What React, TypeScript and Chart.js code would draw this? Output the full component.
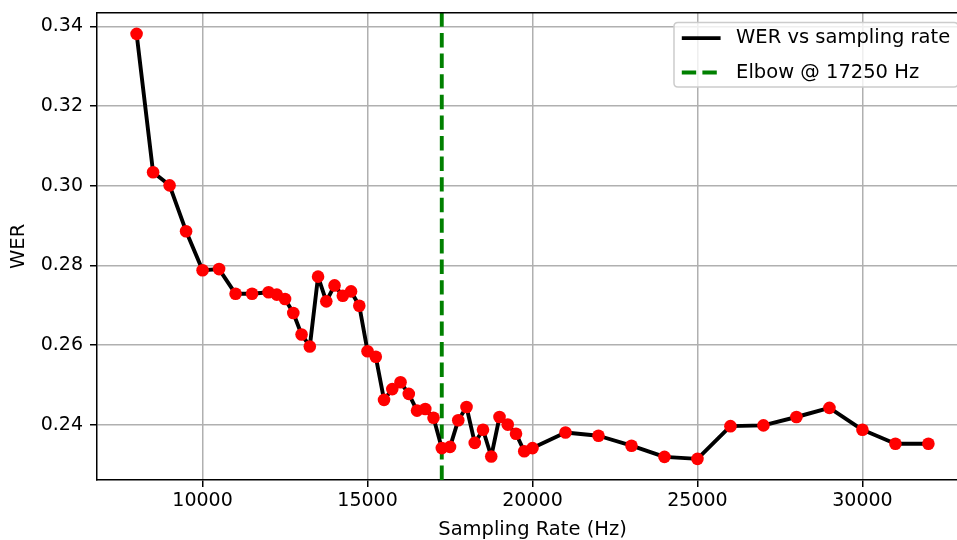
import React, { useEffect, useRef } from "react";
import { Chart, registerables } from "chart.js";

Chart.register(...registerables);

const samplingRates = [
  8000, 8500, 9000, 9500, 10000, 10500, 11000, 11500, 12000, 12250, 12500, 12750,
  13000, 13250, 13500, 13750, 14000, 14250, 14500, 14750, 15000, 15250, 15500, 15750,
  16000, 16250, 16500, 16750, 17000, 17250, 17500, 17750, 18000, 18250, 18500, 18750,
  19000, 19250, 19500, 19750, 20000, 21000, 22000, 23000, 24000, 25000, 26000, 27000,
  28000, 29000, 30000, 31000, 32000,
];
const werValues = [
  0.3381, 0.3034, 0.3001, 0.2886, 0.2788, 0.2791, 0.2729, 0.2729, 0.2733, 0.2727, 0.2716, 0.2681,
  0.2627, 0.2597, 0.2772, 0.271, 0.275, 0.2724, 0.2735, 0.2699, 0.2585, 0.2571, 0.2463, 0.249,
  0.2507, 0.2478, 0.2436, 0.244, 0.2418, 0.2342, 0.2345, 0.2412, 0.2445, 0.2355, 0.2388, 0.2321,
  0.242, 0.2401, 0.2378, 0.2334, 0.2342, 0.2381, 0.2373, 0.2348, 0.232, 0.2315, 0.2397, 0.2399,
  0.242, 0.2443, 0.2388, 0.2353, 0.2353,
];
const elbowRate = 17250;
const xTicks = [10000, 15000, 20000, 25000, 30000];
const yTicks = [0.24, 0.26, 0.28, 0.3, 0.32, 0.34];
const xRange = [6800, 33200];
const yRange = [0.2262, 0.3434];

const FONT = "'DejaVu Sans', 'Liberation Sans', sans-serif";
const FS = 19;
const FS_LEGEND = 19.5;

const framePlugin = {
  id: "frame",
  afterDatasetsDraw(chart: any) {
    const { ctx, chartArea } = chart;
    ctx.save();
    ctx.strokeStyle = "#000";
    ctx.lineWidth = 1.5;
    ctx.beginPath();
    ctx.moveTo(chartArea.left, chartArea.top);
    ctx.lineTo(chartArea.right, chartArea.top);
    ctx.lineTo(chartArea.right, chartArea.bottom);
    ctx.stroke();
    ctx.restore();
  },
  afterDraw(chart: any) {
    // matplotlib-like legend in the upper right corner
    const { ctx, chartArea } = chart;
    const items = chart.data.datasets
      .filter((d: any) => d.label)
      .map((d: any) => ({ label: d.label, color: d.borderColor, dash: d.borderDash || [], width: d.borderWidth }));
    ctx.save();
    ctx.font = `${FS_LEGEND}px ${FONT}`;
    const maxW = Math.max(...items.map((it: any) => ctx.measureText(it.label).width));
    const pad = 7.8;
    const handleLen = 38.8;
    const handleGap = 15.5;
    const right = chartArea.right - 10;
    const top = chartArea.top + 9.9;
    const boxW = pad + handleLen + handleGap + maxW + pad;
    const left = right - boxW;
    const rowGap = 34.4;
    const boxH = 64.3;
    const r = 4;
    ctx.beginPath();
    ctx.moveTo(left + r, top);
    ctx.lineTo(right - r, top);
    ctx.quadraticCurveTo(right, top, right, top + r);
    ctx.lineTo(right, top + boxH - r);
    ctx.quadraticCurveTo(right, top + boxH, right - r, top + boxH);
    ctx.lineTo(left + r, top + boxH);
    ctx.quadraticCurveTo(left, top + boxH, left, top + boxH - r);
    ctx.lineTo(left, top + r);
    ctx.quadraticCurveTo(left, top, left + r, top);
    ctx.closePath();
    ctx.fillStyle = "rgba(255,255,255,0.8)";
    ctx.fill();
    ctx.strokeStyle = "#cccccc";
    ctx.lineWidth = 1.5;
    ctx.stroke();
    items.forEach((it: any, i: number) => {
      const cy = top + 15.5 + i * rowGap;
      const hx = left + pad;
      ctx.beginPath();
      ctx.setLineDash(it.dash);
      ctx.strokeStyle = it.color;
      ctx.lineWidth = it.width;
      ctx.lineCap = "butt";
      ctx.moveTo(hx, cy);
      ctx.lineTo(hx + handleLen, cy);
      ctx.stroke();
      ctx.setLineDash([]);
      ctx.fillStyle = "#000";
      ctx.textBaseline = "middle";
      ctx.textAlign = "left";
      ctx.fillText(it.label, hx + handleLen + handleGap, cy);
    });
    ctx.restore();
  },
};

export default function App() {
  const ref = useRef<HTMLCanvasElement | null>(null);

  useEffect(() => {
    if (!ref.current) return;
    const points = samplingRates.map((x, i) => ({ x, y: werValues[i] }));
    const chart = new Chart(ref.current, {
      type: "line",
      data: {
        datasets: [
          {
            type: "line",
            label: "WER vs sampling rate",
            data: points,
            borderColor: "#000000",
            borderWidth: 3.9,
            borderJoinStyle: "round",
            pointRadius: 0,
            tension: 0,
            order: 2,
          } as any,
          {
            type: "line",
            label: `Elbow @ ${elbowRate} Hz`,
            data: [
              { x: elbowRate, y: yRange[0] },
              { x: elbowRate, y: yRange[1] },
            ],
            borderColor: "#008000",
            borderWidth: 3.9,
            borderDash: [14.4, 6.2],
            pointRadius: 0,
            order: 3,
          } as any,
          {
            type: "scatter",
            label: "",
            data: points,
            backgroundColor: "#ff0000",
            borderColor: "#ff0000",
            borderWidth: 0,
            pointRadius: 6.3,
            showLine: false,
            order: 1,
          } as any,
        ],
      },
      options: {
        animation: false,
        responsive: false,
        maintainAspectRatio: false,
        events: [],
        layout: { autoPadding: false, padding: { top: 12.7, left: 0, right: 0, bottom: 0 } },
        plugins: { legend: { display: false }, tooltip: { enabled: false }, title: { display: false } },
        scales: {
          x: {
            type: "linear",
            position: "bottom",
            min: xRange[0],
            max: xRange[1],
            afterBuildTicks: (s: any) => {
              s.ticks = xTicks.map((v) => ({ value: v }));
            },
            afterFit: (s: any) => {
              s.height = 60;
              s.paddingLeft = 0;
              s.paddingRight = 0;
            },
            ticks: {
              color: "#000",
              font: { family: FONT, size: FS },
              padding: 3,
              maxRotation: 0,
              autoSkip: false,
              callback: (v: any) => String(v),
            },
            grid: {
              color: "#b0b0b0",
              lineWidth: 1.5,
              drawTicks: true,
              tickLength: 7,
              tickColor: "#000",
              tickWidth: 1.5,
            },
            border: { display: true, color: "#000", width: 1.5 },
            title: {
              display: true,
              text: "Sampling Rate (Hz)",
              color: "#000",
              font: { family: FONT, size: FS_LEGEND, lineHeight: 1 },
              padding: { top: 0, bottom: 0.5 },
            },
          },
          y: {
            type: "linear",
            min: yRange[0],
            max: yRange[1],
            afterBuildTicks: (s: any) => {
              s.ticks = yTicks.map((v) => ({ value: v }));
            },
            afterFit: (s: any) => {
              s.width = 97;
              s.paddingTop = 0;
              s.paddingBottom = 0;
            },
            ticks: {
              color: "#000",
              font: { family: FONT, size: FS },
              padding: 7,
              autoSkip: false,
              callback: (v: any) => Number(v).toFixed(2),
            },
            grid: {
              color: "#b0b0b0",
              lineWidth: 1.5,
              drawTicks: true,
              tickLength: 7,
              tickColor: "#000",
              tickWidth: 1.5,
            },
            border: { display: true, color: "#000", width: 1.5 },
            title: {
              display: true,
              text: "WER",
              color: "#000",
              font: { family: FONT, size: FS_LEGEND, lineHeight: 1 },
              padding: { top: 9, bottom: 0 },
            },
          },
        },
      } as any,
      plugins: [framePlugin],
    });
    return () => chart.destroy();
  }, []);

  return (
    <div
      style={{
        position: "absolute",
        left: 0,
        top: 0,
        width: 957,
        height: 540,
        overflow: "hidden",
        background: "#fff",
      }}
    >
      <canvas ref={ref} width={968} height={540} style={{ display: "block", width: 968, height: 540 }} />
    </div>
  );
}
